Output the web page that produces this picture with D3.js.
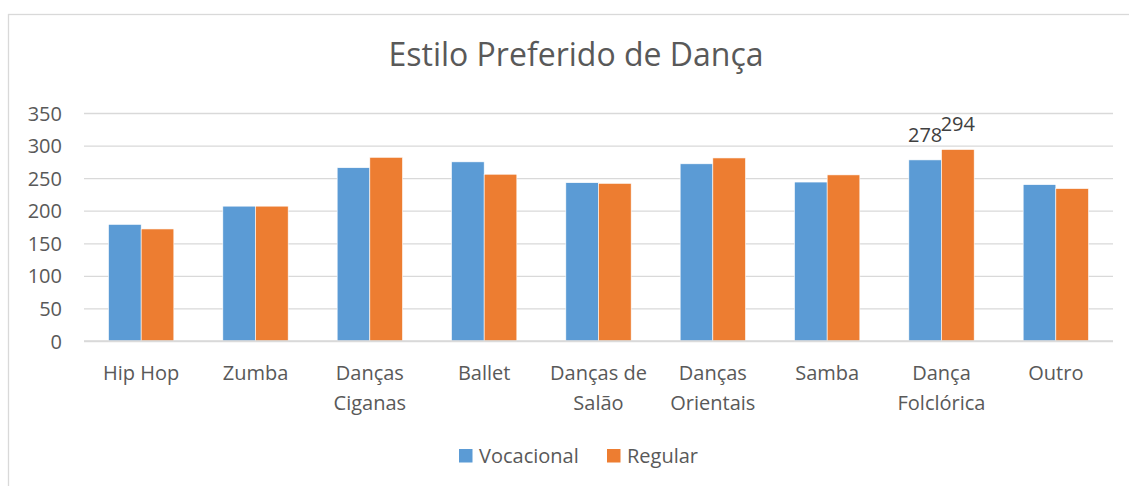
<!DOCTYPE html>
<html>
<head>
<meta charset="utf-8">
<script src="https://cdn.jsdelivr.net/npm/d3@7"></script>
<style>
  body { margin: 0; background: #fff; }
  svg { display: block; font-family: "Open Sans", sans-serif; }
  .axis .domain { display: none; }
  .axis.y line { stroke: #d9d9d9; stroke-width: 1.3; }
  .axis text { fill: #595959; font-size: 20px; font-family: "Open Sans", sans-serif; }
</style>
</head>
<body>
<svg width="1129" height="486"></svg>
<script>
// data
const categories = ["Hip Hop", "Zumba", "Danças Ciganas", "Ballet", "Danças de Salão",
  "Danças Orientais", "Samba", "Dança Folclórica", "Outro"];
// categories split on two lines like the original
const catLines = [["Hip Hop"], ["Zumba"], ["Danças", "Ciganas"], ["Ballet"], ["Danças de", "Salão"],
  ["Danças", "Orientais"], ["Samba"], ["Dança", "Folclórica"], ["Outro"]];
const seriesNames = ["Vocacional", "Regular"];
const vocacional = [179, 207, 266, 275, 243, 272, 244, 278, 240];
const regular = [172, 207, 282, 256, 242, 281, 255, 294, 234];
const yTicks = [0, 50, 100, 150, 200, 250, 300, 350];
const labelledIndex = 7; // only Dança Folclórica carries data labels

const colors = ["#5b9bd5", "#ed7d31"];

const margin = { top: 113, right: 16, bottom: 145, left: 84 };
const width = 1129 - margin.left - margin.right;
const height = 486 - margin.top - margin.bottom;

const svg = d3.select("svg");

// outer chart border
svg.append("rect")
  .attr("x", 8.5).attr("y", 14.5)
  .attr("width", 1140).attr("height", 500)
  .attr("fill", "none")
  .attr("stroke", "#d9d9d9")
  .attr("stroke-width", 1.3);

svg.append("text")
  .attr("x", 576).attr("y", 66)
  .attr("text-anchor", "middle")
  .attr("fill", "#595959")
  .attr("font-size", "32px")
  .text("Estilo Preferido de Dança");

const g = svg.append("g")
  .attr("transform", `translate(${margin.left}, ${margin.top})`);

const x = d3.scaleBand().domain(categories).range([0, width]);
const y = d3.scaleLinear().domain([0, 350]).range([height, 0]);

const barW = x.bandwidth() / 3.5;
const offset = (x.bandwidth() - 2 * barW) / 2;

// y axis + gridlines
g.append("g")
  .attr("class", "axis y")
  .call(d3.axisLeft(y).tickValues(yTicks).tickSize(-width).tickPadding(22))
  .selectAll("text")
  .attr("dy", "0.35em");

const data = categories.map((c, i) => ({ cat: c, i: i, values: [vocacional[i], regular[i]] }));

const groups = g.append("g").selectAll("g")
  .data(data)
  .enter()
  .append("g")
  .attr("transform", (d) => `translate(${x(d.cat) + offset}, 0)`);

groups.selectAll("rect")
  .data((d) => d.values.map((v, s) => ({ v: v, s: s })))
  .enter()
  .append("rect")
  .attr("x", (d) => d.s * barW)
  .attr("y", (d) => y(d.v))
  .attr("width", barW)
  .attr("height", (d) => height - y(d.v))
  .attr("fill", (d) => colors[d.s])
  .attr("stroke", "#fff")
  .attr("stroke-width", 0.6);

// data labels on Dança Folclórica
const lab = data[labelledIndex];
g.append("g").selectAll("text")
  .data(lab.values)
  .enter()
  .append("text")
  .attr("x", (d, s) => x(lab.cat) + offset + s * barW + barW / 2)
  .attr("y", (d) => y(d) - 18)
  .attr("text-anchor", "middle")
  .attr("fill", "#404040")
  .attr("font-size", "20px")
  .text((d) => d);

// x axis line
g.append("line")
  .attr("x1", 0).attr("x2", width)
  .attr("y1", height).attr("y2", height)
  .attr("stroke", "#d9d9d9")
  .attr("stroke-width", 1.3);

// category labels
const xl = g.append("g").selectAll("text")
  .data(categories)
  .enter()
  .append("text")
  .attr("x", (d) => x(d) + x.bandwidth() / 2)
  .attr("y", height + 39)
  .attr("text-anchor", "middle")
  .attr("fill", "#595959")
  .attr("font-size", "20px");

xl.selectAll("tspan")
  .data((d, i) => catLines[i])
  .enter()
  .append("tspan")
  .attr("x", function () { return d3.select(this.parentNode).attr("x"); })
  .attr("dy", (d, j) => (j === 0 ? 0 : 29.5))
  .text((d) => d);

// legend
const legend = svg.append("g").attr("transform", "translate(459, 449)");
const legX = [0, 148];
seriesNames.forEach((name, s) => {
  legend.append("rect")
    .attr("x", legX[s]).attr("y", 0)
    .attr("width", 13.5).attr("height", 13.5)
    .attr("fill", colors[s]);
  legend.append("text")
    .attr("x", legX[s] + 20).attr("y", 13.5)
    .attr("fill", "#595959")
    .attr("font-size", "20px")
    .text(name);
});
</script>
</body>
</html>
